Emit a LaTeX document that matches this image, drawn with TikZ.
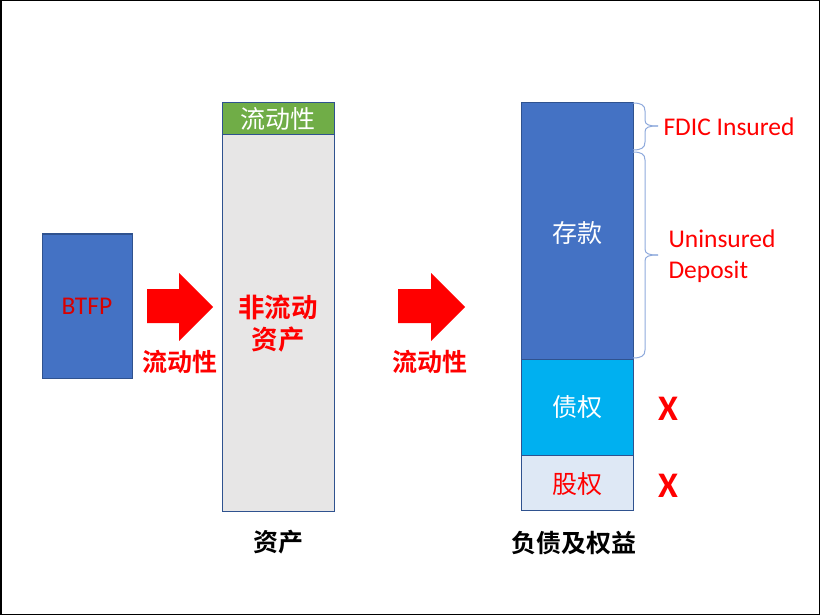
\documentclass[tikz,border=0pt]{standalone}
\usepackage{fontspec}
\setmainfont{Carlito}
\newfontfamily\cjk{Noto Sans CJK SC}[BoldFont=Noto Sans CJK SC Bold]
\usepackage{tikz}
\usetikzlibrary{positioning}

\definecolor{boxblue}{HTML}{4472C4}
\definecolor{edgeblue}{HTML}{2F528F}
\definecolor{liqgreen}{HTML}{70AD47}
\definecolor{assetgray}{HTML}{E7E6E6}
\definecolor{debtcyan}{HTML}{00B0F0}
\definecolor{eqblue}{HTML}{DEE8F5}
\definecolor{brcblue}{HTML}{8FAADC}
\definecolor{hotred}{HTML}{FF0000}

\tikzset{
  block/.style={draw=edgeblue,line width=1pt,inner sep=0pt,minimum width=112pt},
  txt/.style={font=\fontsize{25}{29}\selectfont\cjk},
  boldtxt/.style={font=\fontsize{25}{32}\selectfont\cjk\bfseries,align=center},
  latin/.style={font=\fontsize{25.5}{31}\selectfont,text=hotred},
  blockarrow/.style={fill=hotred,draw=none},
  brc/.style={draw=brcblue,line width=1pt},
  crossmark/.style={font=\fontsize{36}{40}\selectfont\bfseries,text=hotred}
}

\begin{document}
\begin{tikzpicture}[x=1pt,y=-1pt]
\useasboundingbox (0,0) rectangle (820,615);
\draw[line width=1.5pt] (0.75,0.75) rectangle (819.25,614.25);

% BTFP
\node[block,fill=boxblue,minimum width=90pt,minimum height=144pt,
  latin,text=hotred!85!black] (btfp) at (87,306) {BTFP};

% assets column
\node[block,fill=liqgreen,minimum height=32pt,txt,text=white] (liq) at (278,119) {流动性};
\node[block,fill=assetgray,minimum height=376pt] (illiq) at (278,323) {};
\node[boldtxt,font=\fontsize{26.5}{32}\selectfont\cjk\bfseries,text=hotred] (illiqtxt) at (278,324) {非流动\\资产};
\node[boldtxt] (assets) at (278,542) {资产};

% liabilities column
\node[block,fill=boxblue,minimum height=256pt] (dep) at (577,231) {};
\node[txt,text=white] (deptxt) at (577,233) {存款};
\node[block,fill=debtcyan,minimum height=96pt,txt,text=white] (debt) at (577,407) {债权};
\node[block,fill=eqblue,minimum height=55pt] (eq) at (577,482.5) {};
\node[txt,text=hotred] (eqtxt) at (577,484) {股权};
\node[boldtxt] (liab) at (574,543) {负债及权益};

% block arrows
\fill[blockarrow] (147,289) -- (179,289) -- (179,273) -- (213,307)
  -- (179,341) -- (179,323) -- (147,323) -- cycle;
\node[boldtxt,text=hotred] (liqa) at (180,362) {流动性};
\fill[blockarrow] (398,289) -- (431,289) -- (431,273) -- (465,307)
  -- (431,341) -- (431,323) -- (398,323) -- cycle;
\node[boldtxt,text=hotred] (liqb) at (430,362) {流动性};

% braces
\draw[brc] (633,103) .. controls (641,103) and (645,105) .. (645,111)
  -- (645,120) .. controls (645,125) and (649,126) .. (658,126);
\draw[brc] (633,150) .. controls (641,150) and (645,148) .. (645,142)
  -- (645,132) .. controls (645,127) and (649,126) .. (658,126);
\draw[brc] (633,152) .. controls (641,152) and (645,154) .. (645,160)
  -- (645,249) .. controls (645,254) and (649,255) .. (658,255);
\draw[brc] (633,358) .. controls (641,358) and (645,356) .. (645,350)
  -- (645,261) .. controls (645,256) and (649,255) .. (658,255);

\node[anchor=west,latin] (fdic) at (660,127) {FDIC Insured};
\node[anchor=west,align=left,latin] (unins) at (665,256) {Uninsured\\Deposit};

\node[crossmark] (xdebt) at (668,409) {X};
\node[crossmark] (xeq) at (668,486) {X};
\end{tikzpicture}
\end{document}
